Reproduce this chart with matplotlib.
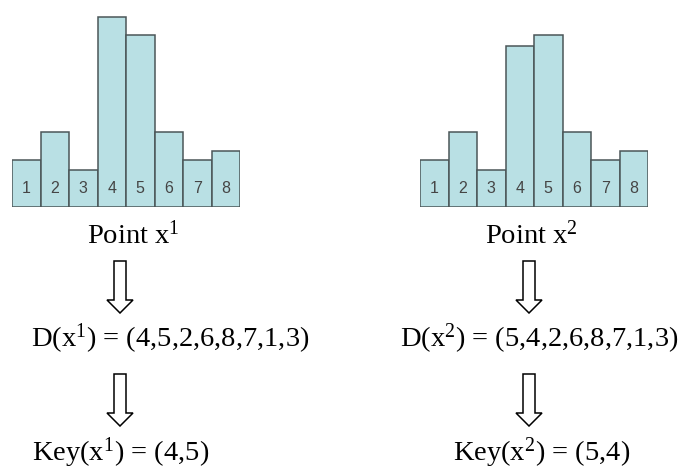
import matplotlib
matplotlib.use("Agg")
import matplotlib.pyplot as plt
import matplotlib.patches as mpatches

# ---------------- data ----------------
bins = [1, 2, 3, 4, 5, 6, 7, 8]
bin_labels = ['1', '2', '3', '4', '5', '6', '7', '8']
heights_x1 = [47, 75, 37, 190, 172, 75, 47, 56]
heights_x2 = [47, 75, 37, 161, 172, 75, 47, 56]

point_labels = ['Point x$^{1}$', 'Point x$^{2}$']
d_labels = ['D(x$^{1}$) = (4,5,2,6,8,7,1,3)', 'D(x$^{2}$) = (5,4,2,6,8,7,1,3)']
key_labels = ['Key(x$^{1}$) = (4,5)', 'Key(x$^{2}$) = (5,4)']

# ---------------- style ----------------
plt.rcParams['font.family'] = ['Liberation Serif', 'DejaVu Serif']
plt.rcParams['mathtext.fontset'] = 'custom'
plt.rcParams['mathtext.rm'] = 'Liberation Serif'
plt.rcParams['mathtext.it'] = 'Liberation Serif'
plt.rcParams['mathtext.default'] = 'regular'

W, H = 681, 469
fig = plt.figure(figsize=(W / 100, H / 100), dpi=100)
fig.patch.set_facecolor('white')

# overlay axes in pixel units for text and arrows
ov = fig.add_axes([0, 0, 1, 1])
ov.set_xlim(0, W)
ov.set_ylim(H, 0)
ov.axis('off')

bar_color = '#b9e0e4'
edge_color = '#4b5658'
fs = 20.5

panels = [
    dict(heights=heights_x1, hx=12, cx=120, pcx=133, dx=31, kx=32),
    dict(heights=heights_x2, hx=420, cx=529, pcx=531, dx=400, kx=453),
]

for i, p in enumerate(panels):
    ax = fig.add_axes([p['hx'] / W, (H - 207) / H, 228 / W, 200 / H])
    ax.bar(bins, p['heights'], width=1.0, color=bar_color,
           edgecolor=edge_color, linewidth=1.1)
    for b, lab in zip(bins, bin_labels):
        ax.text(b, 19, lab, ha='center', va='center', fontsize=11.5,
                family='Liberation Sans', color='#454545')
    ax.set_xlim(0.5, 8.5)
    ax.set_ylim(0, 200)
    ax.axis('off')

    # texts
    ov.text(p['pcx'], 244, point_labels[i], ha='center', va='baseline', fontsize=fs)
    ov.text(p['dx'], 347, d_labels[i], ha='left', va='baseline', fontsize=fs)
    ov.text(p['kx'], 461, key_labels[i], ha='left', va='baseline', fontsize=fs)

    # hollow down arrows
    for top, tip in [(261, 313), (374, 426)]:
        arr = mpatches.FancyArrow(p['cx'], top, 0, tip - top, width=12,
                                  head_width=26, head_length=13,
                                  length_includes_head=True,
                                  facecolor='white', edgecolor='black',
                                  linewidth=1.1)
        ov.add_patch(arr)

fig.savefig('out.png', dpi=100)
